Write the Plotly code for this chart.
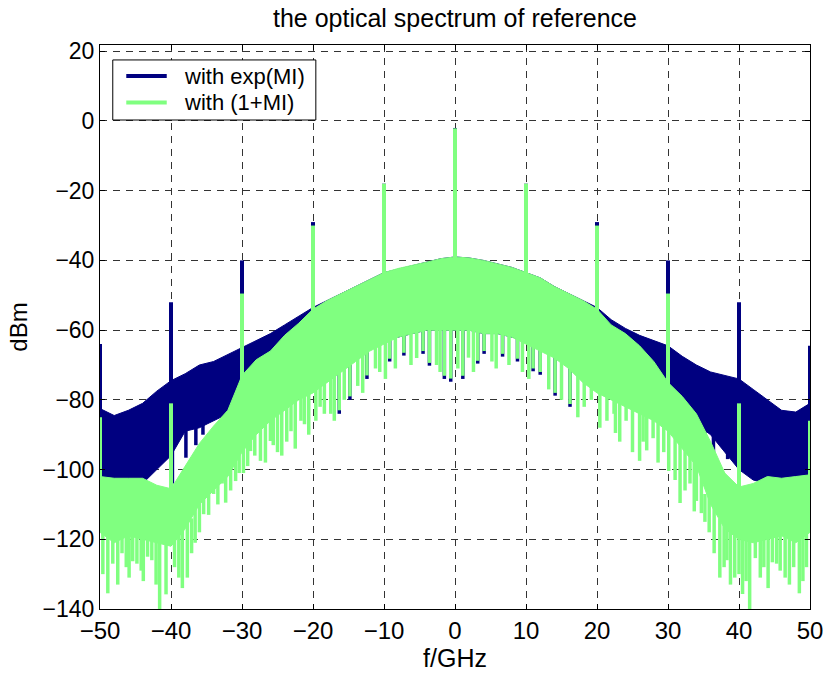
import numpy as np
import plotly.graph_objects as go

# Frequency grid (GHz) on which the noise band edges are sampled
freq_grid = list(range(-50, 51, 2))

# "with exp(MI)" : upper edge and lower edge of the noise band (dBm)
exp_top = [-82.5, -84.5, -83, -81, -77.5, -74.5, -72.5, -70, -69, -67, -65,
           -63, -61, -58.5, -56, -53.5, -51.5, -49.5, -47.5, -45.5, -43.5,
           -42.5, -41.5, -40.5, -39.5, -39, -39.3, -40, -41, -42, -43.5,
           -45, -47.5, -49.5, -51.5, -53.5, -57, -59.5, -61.5, -63, -64.5,
           -67.5, -70, -72, -73, -74, -77, -80, -83, -83.5, -81]
exp_floor = [-106, -106, -105, -104, -100, -96, -89, -88, -86, -84, -82,
             -80, -78, -75, -72, -70, -68, -66, -65, -64, -63,
             -62, -61, -60, -60, -60, -60, -61, -61, -62, -63,
             -64, -65, -67, -69, -71, -73, -76, -78, -80, -82,
             -85, -87, -90, -95, -100, -103, -104, -104, -105, -105]

# "with (1+MI)" : upper edge and lower edge of the noise band (dBm)
lin_top = [-102, -102.5, -102.5, -102.5, -104.5, -105.5, -99, -92.5, -87.5, -83, -73,
           -68.5, -66, -61.5, -58, -54, -51.5, -49.5, -47.5, -45.5, -43.5,
           -42.3, -41.5, -40.5, -39.5, -39, -39.3, -40, -41, -42, -43.5,
           -45, -47.5, -49.5, -51.5, -54, -58.5, -61, -64.5, -69, -75,
           -79, -84, -92, -101, -105, -104, -102, -102.5, -102, -101.5]
lin_floor = [-118, -121, -119, -120, -121, -122, -117, -110, -106, -102, -95,
             -90, -86, -83, -80, -78, -75, -72, -69, -66, -64,
             -62, -61, -60, -60, -60, -60, -61, -61, -62, -64,
             -66, -68, -71, -75, -78, -80, -82, -84, -86, -89,
             -94, -99, -110, -117, -120, -121, -120, -119, -121, -118]

# Deep notches reaching below the band (GHz, dBm)
lin_dip_f = [-49.6, -48.9, -48.2, -47.5, -46.9, -46.3, -45.9, -45.4, -44.8, -44.2,
             -43.9, -43.3, -42.7, -42.1, -41.6, -40.7, -39.5, -38.9, -38.4, -37.7,
             -37.1, -36.6, -36.0, -35.4, -34.7, -34.0, -33.4, -32.8, -32.3, -31.6,
             -30.9, -30.4, -29.8, -29.2, -28.8, -28.2, -27.4, -26.7, -26.0, -25.6,
             -25.0, -24.4, -23.7, -23.1, -22.5, -21.7, -21.2, -20.6, -19.6, -19.0,
             -18.4, -17.5, -17.0, -16.3, -15.6, -14.8, -13.7, -13.0, -12.4, -11.2,
             -10.6, -9.8, -9.2, -8.4, -7.2, -6.2, -5.4, -4.5, -3.6, -2.6,
             -2.1, -1.5, -0.6, 0.4, 1.1, 1.9, 2.6, 3.2, 4.1, 5.2,
             5.8, 6.7, 7.6, 8.8, 9.5, 10.4, 11.0, 12.0, 13.2, 14.1,
             15.0, 16.2, 17.3, 18.2, 19.2, 20.4, 21.4, 22.4, 22.6, 23.2,
             24.1, 25.0, 26.0, 26.5, 27.0, 27.9, 28.6, 29.4, 30.1, 31.0,
             31.7, 32.4, 33.1, 33.7, 34.0, 34.7, 35.2, 35.8, 36.5, 37.3,
             37.9, 38.3, 38.8, 39.4, 40.0, 40.5, 41.0, 41.5, 42.3, 43.0,
             43.5, 44.1, 44.7, 45.3, 45.8, 46.5, 47.1, 47.7, 48.5, 49.0, 49.5]
lin_dip_db = [-130, -135.5, -127, -133, -124, -128, -131, -126.3, -127, -129,
              -132, -125, -126, -133, -140.5, -135.8, -128, -131, -134, -131,
              -124, -121, -118, -112.8, -113, -107, -110, -104, -109.5, -106,
              -103.3, -101, -101, -99, -94.7, -96, -97.5, -98, -91.8, -93,
              -95, -96, -92, -89, -94, -86, -87, -90, -86, -82,
              -84, -84, -86, -83, -80, -79, -76, -78, -73, -71,
              -72, -74, -68.2, -71, -66.5, -70, -68, -66, -69.4, -70,
              -72, -73.1, -73.9, -71, -73.1, -67.9, -72, -68.8, -66, -69,
              -71, -66.8, -70, -68.2, -72, -74, -71, -72, -77, -78,
              -80, -81.2, -85, -82, -80, -88, -86, -84, -89.5, -92,
              -86, -95, -97.5, -92, -94.5, -91, -98, -95, -100.4, -103,
              -109.6, -106, -104, -112, -109, -112.5, -115, -118, -124, -131,
              -128, -126, -133, -131, -130, -135.7, -132, -140.5, -125.4, -131,
              -128, -134, -126.6, -127, -129, -131, -133, -128, -135.5, -132, -128]

exp_dip_f = [-39.8, -37.9, -36.5, -35.5, -16.3, -14.8, -12.4, -9.2, -7.2, -4.5,
             -3.6, -1.5, -0.6, 1.1, 3.2, 4.1, 6.7, 8.8, 11.0, 12.0,
             14.1, 16.2, 35.2, 36.4, 37.7, 38.4]
exp_dip_db = [-104, -96.6, -93, -90, -84, -80, -74, -69, -67.3, -66.8,
              -70.2, -74, -74.8, -74, -69.6, -66.8, -67.6, -69, -71.8, -72.8,
              -78.8, -82, -93, -99, -92.6, -97]

# Discrete spectral lines (GHz, dBm)
line_f = [-50, -40, -30, -20, -10, 0, 10, 20, 30, 40, 50]
exp_line_db = [-64, -52, -40, -29, -18, -2, -18, -29, -40, -52, -64.5]
lin_line_db = [-85, -81, -49.5, -30, -18, -2.1, -18, -30, -49.5, -81, -86]

series_names = ["with exp(MI)", "with (1+MI)"]

NAVY = "#000080"
LIGHT_GREEN = "#80FF80"
FONT = "Liberation Sans, Arial, sans-serif"


def band_trace(top, floor, color):
    xs = freq_grid + freq_grid[::-1]
    ys = list(top) + list(floor)[::-1]
    return go.Scatter(x=xs, y=ys, mode="lines", fill="toself", fillcolor=color,
                      line=dict(color=color, width=1), hoverinfo="skip",
                      showlegend=False)


def stems(fs, tips, floor, color, name=None, width=3.5):
    grid = np.array(freq_grid)
    xs, ys = [], []
    for f, tip in zip(fs, tips):
        base = floor[int(np.abs(grid - f).argmin())] + 3
        xs += [f, f, None]
        ys += [base, tip, None]
    return go.Scatter(x=xs, y=ys, mode="lines", line=dict(color=color, width=width),
                      name=name, showlegend=False, hoverinfo="skip")


fig = go.Figure()
fig.add_trace(band_trace(exp_top, exp_floor, NAVY))
fig.add_trace(stems(exp_dip_f, exp_dip_db, exp_floor, NAVY))
fig.add_trace(stems(line_f, exp_line_db, exp_floor, NAVY, name=series_names[0], width=4))
fig.add_trace(band_trace(lin_top, lin_floor, LIGHT_GREEN))
fig.add_trace(stems(lin_dip_f, lin_dip_db, lin_floor, LIGHT_GREEN))
fig.add_trace(stems(line_f, lin_line_db, lin_floor, LIGHT_GREEN, name=series_names[1], width=4))

axis_common = dict(
    showline=True, linecolor="black", linewidth=1, mirror="ticks",
    ticks="inside", ticklen=5, tickcolor="black",
    showgrid=True, gridcolor="#333333", gridwidth=1, griddash="7px,6px",
    zeroline=False,
)

fig.update_xaxes(range=[-50, 50], tickvals=list(range(-50, 51, 10)),
                 tickfont=dict(family=FONT, size=24, color="black"),
                 ticklabelstandoff=0,
                 title=dict(text="f/GHz", font=dict(family=FONT, size=25, color="black"),
                            standoff=6),
                 **axis_common)
fig.update_yaxes(range=[-140, 21.8], tickvals=list(range(-140, 21, 20)),
                 tickfont=dict(family=FONT, size=23, color="black"),
                 title=dict(text="dBm", font=dict(family=FONT, size=24, color="black"),
                            standoff=8),
                 **axis_common)

# Legend box in the upper-left corner of the axes (paper coordinates)
box_x0, box_x1, box_y0, box_y1 = 0.018, 0.304, 0.867, 0.9735
key_x0, key_x1, text_x = 0.037, 0.094, 0.115
row_y = [0.945, 0.898]
legend_colors = [NAVY, LIGHT_GREEN]

shapes = [dict(type="rect", xref="paper", yref="paper", x0=box_x0, x1=box_x1,
               y0=box_y0, y1=box_y1, line=dict(color="black", width=1),
               fillcolor="white", layer="above")]
annotations = []
for name, color, y in zip(series_names, legend_colors, row_y):
    shapes.append(dict(type="line", xref="paper", yref="paper", x0=key_x0, x1=key_x1,
                       y0=y, y1=y, line=dict(color=color, width=4), layer="above"))
    annotations.append(dict(text=name, xref="paper", yref="paper", x=text_x, y=y,
                            xanchor="left", yanchor="middle", showarrow=False,
                            font=dict(family=FONT, size=22, color="black")))

fig.update_layout(
    width=835, height=680,
    margin=dict(l=100, r=17, t=45, b=71),
    paper_bgcolor="white", plot_bgcolor="white",
    title=dict(text="the optical spectrum of reference", x=0.5, xref="paper",
               xanchor="center", y=0.973, yanchor="middle",
               font=dict(family=FONT, size=25, color="black")),
    shapes=shapes, annotations=annotations,
    showlegend=False,
)

fig.write_html("out.html")
